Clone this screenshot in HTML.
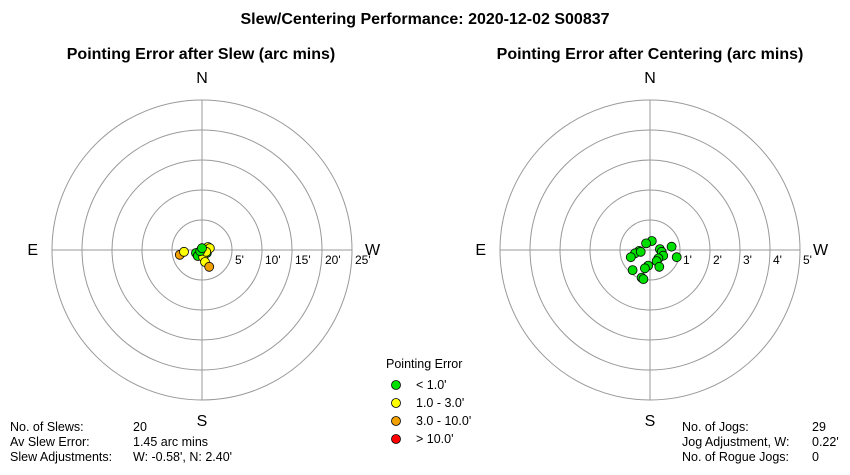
<!DOCTYPE html>
<html><head><meta charset="utf-8"><style>
body{margin:0;background:#fff;font-family:"Liberation Sans",Arial,sans-serif;}
svg text{font-family:"Liberation Sans",Arial,sans-serif;}
</style></head><body>
<svg id="c" width="850" height="470" viewBox="0 0 850 470">
<text x="425" y="24" text-anchor="middle" font-size="16" font-weight="bold">Slew/Centering Performance: 2020-12-02 S00837</text>
<text x="201" y="59" text-anchor="middle" font-size="16" font-weight="bold">Pointing Error after Slew (arc mins)</text>
<text x="650" y="59" text-anchor="middle" font-size="16" font-weight="bold">Pointing Error after Centering (arc mins)</text>
<g id="left"></g><g id="right"></g>
<g font-size="12.5">
<text x="386" y="368">Pointing Error</text>
<circle cx="396" cy="385" r="4.5" fill="#00e000" stroke="#000" stroke-width="0.8"/>
<text x="416" y="389">&lt; 1.0'</text>
<circle cx="396" cy="403" r="4.5" fill="#ffff00" stroke="#000" stroke-width="0.8"/>
<text x="416" y="407">1.0 - 3.0'</text>
<circle cx="396" cy="421" r="4.5" fill="#f0a000" stroke="#000" stroke-width="0.8"/>
<text x="416" y="425">3.0 - 10.0'</text>
<circle cx="396" cy="439" r="4.5" fill="#ff0000" stroke="#000" stroke-width="0.8"/>
<text x="416" y="443">&gt; 10.0'</text>
</g>
<g font-size="12.5">
<text x="10" y="431">No. of Slews:</text><text x="133" y="431">20</text>
<text x="10" y="446">Av Slew Error:</text><text x="133" y="446">1.45 arc mins</text>
<text x="10" y="461">Slew Adjustments:</text><text x="133" y="461">W: -0.58', N: 2.40'</text>
</g>
<g font-size="12.5">
<text x="682" y="431">No. of Jogs:</text><text x="812" y="431">29</text>
<text x="682" y="446">Jog Adjustment, W:</text><text x="812" y="446">0.22'</text>
<text x="682" y="461">No. of Rogue Jogs:</text><text x="812" y="461">0</text>
</g>
</svg>
<script>
// Slew errors (arc mins): W offset, N offset
const slewW = [-3.7,-3.0,-1.0,-0.7,0.5,0.8,1.0,1.3,0.2,0.5,1.2,0.7,-0.3,0.0];
const slewN = [-0.8,-0.3,-0.5,-1.0,0.0,-0.5,0.5,0.3,-1.2,-2.0,-2.8,-0.3,-0.2,0.3];
const slewCat = ['o','y','g','g','g','g','y','y','y','y','o','y','g','g'];
// Centering errors (arc mins)
const cenW = [0.06,-0.13,-0.36,-0.5,-0.31,-0.64,0.33,0.39,0.72,0.44,0.89,0.28,0.22,-0.06,-0.17,-0.58,0.31,-0.28,-0.22];
const cenN = [0.3,0.22,-0.03,-0.11,-0.06,-0.24,0.03,-0.06,0.11,-0.19,-0.24,-0.28,-0.37,-0.52,-0.61,-0.67,-0.56,-0.92,-0.97];
const cenCat = cenW.map(()=> 'g');
const leftTicks = ["5'","10'","15'","20'","25'"];
const rightTicks = ["1'","2'","3'","4'","5'"];
const colors = {g:'#00e000',y:'#ffff00',o:'#f0a000',r:'#ff0000'};
const NS='http://www.w3.org/2000/svg';
function mk(parent,tag,attrs){const e=document.createElementNS(NS,tag);for(const k in attrs)e.setAttribute(k,attrs[k]);parent.appendChild(e);return e;}
function polar(gid,cx,cy,ticks,maxVal,W,N,cat,prefix){
  const g=document.getElementById(gid);
  const R=150, sc=v=>v/maxVal*R;
  ticks.forEach((t,i)=>{
    const r=R*(i+1)/ticks.length;
    const c=mk(g,'circle',{cx,cy,r,fill:'none',stroke:'#999','stroke-width':1});
    
    
    const tx=mk(g,'text',{x:cx+r+3,y:cy+14,'font-size':12});
    tx.textContent=t;
    
    
  });
  const l1=mk(g,'line',{x1:cx-R,y1:cy,x2:cx+R,y2:cy,stroke:'#999'});
  
  
  const l2=mk(g,'line',{x1:cx,y1:cy-R,x2:cx,y2:cy+R,stroke:'#999'});
  
  
  [['N',cx,cy-R-17,'middle'],['S',cx,cy+R+26,'middle'],['E',cx-R-14,cy+5,'end'],['W',cx+R+13,cy+5,'start']].forEach(d=>{
    const t=mk(g,'text',{x:d[1],y:d[2],'font-size':16,'text-anchor':d[3]});
    t.textContent=d[0];
    
    
  });
  W.forEach((w,i)=>{
    const p=mk(g,'circle',{cx:cx+sc(w),cy:cy-sc(N[i]),r:4.5,fill:colors[cat[i]],stroke:'#000','stroke-width':0.8});
    
    
  });
}
polar('left',202,250,leftTicks,25,slewW,slewN,slewCat,'slew');
polar('right',650,250,rightTicks,5,cenW,cenN,cenCat,'centering');
</script>
</body></html>
